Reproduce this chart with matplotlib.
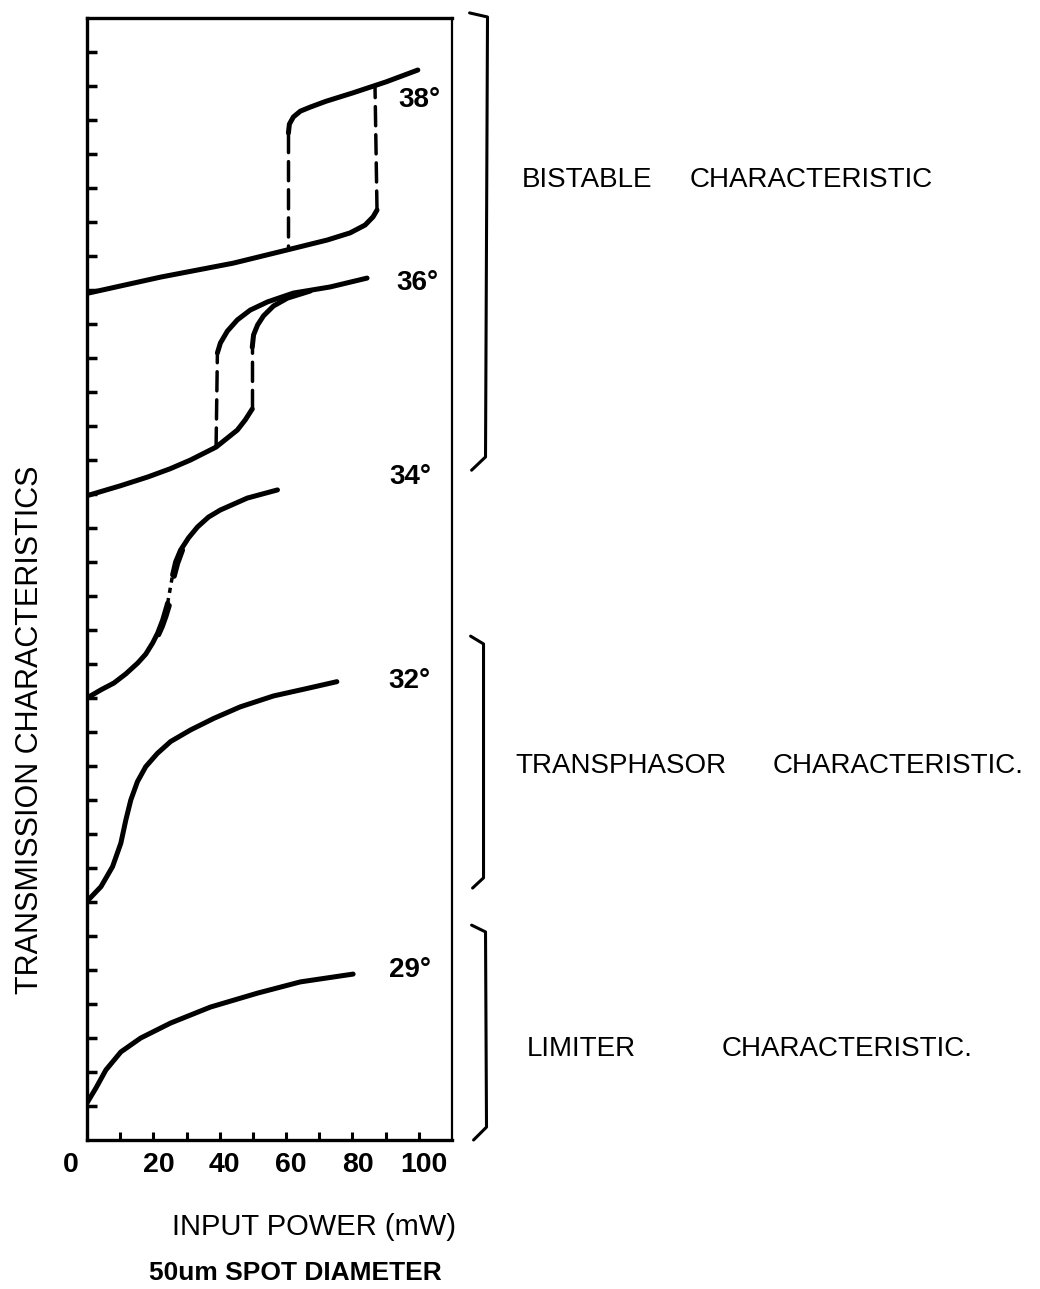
import matplotlib.pyplot as plt
from matplotlib.transforms import ScaledTranslation

# input power (mW) / transmission (arb. units)
p29 = [0, 2.7, 5.7, 10.2, 16.2, 25.2, 37.2, 51.4, 64.3, 80.2]
t29 = [1.09, 1.53, 2.06, 2.59, 3.0, 3.44, 3.91, 4.32, 4.65, 4.88]

p32 = [0, 4.2, 7.7, 10.2, 11.7, 13.2, 15.2, 17.7, 21.2, 25.2, 31.2, 38.2, 46.2, 56.2, 66.3, 75.3]
t32 = [7.02, 7.45, 8.04, 8.73, 9.41, 10.0, 10.54, 10.98, 11.37, 11.72, 12.06, 12.4, 12.74,
       13.06, 13.28, 13.48]

p34_lo = [0, 4.2, 8.1, 11.7, 15.3, 17.7, 19.8, 21.3, 22.8, 23.7, 24.3]
t34_lo = [13.0, 13.24, 13.44, 13.71, 14.03, 14.29, 14.62, 14.91, 15.29, 15.59, 15.79]
p34_gap = [24.3, 25.8]
t34_gap = [15.79, 16.62]
p34_hi = [25.8, 26.7, 28.2, 30.6, 33.3, 36.6, 40.2, 48.3, 57.4]
t34_hi = [16.62, 17.0, 17.35, 17.71, 18.03, 18.32, 18.53, 18.88, 19.12]
p34_back_lo = [21.6, 22.7, 23.8, 24.8]
t34_back_lo = [14.86, 15.1, 15.4, 15.72]
p34_back_hi = [26.3, 27.3, 28.8]
t34_back_hi = [16.58, 16.95, 17.35]

p36_lo = [0, 10.0, 18.3, 25.0, 31.2, 38.9, 45.3, 47.7, 49.2, 49.8]
t36_lo = [18.95, 19.24, 19.5, 19.74, 20.0, 20.38, 20.88, 21.18, 21.41, 21.5]
p36_up = [39.3, 40.2, 42.3, 45.3, 49.2, 54.4, 62.2, 73.3, 84.4]
t36_up = [23.15, 23.44, 23.79, 24.12, 24.41, 24.65, 24.91, 25.09, 25.35]
p36_ret = [49.8, 50.2, 51.4, 53.2, 56.2, 60.4, 67.3]
t36_ret = [23.32, 23.68, 23.97, 24.24, 24.53, 24.76, 24.97]
p36_jump_up = [49.8, 49.8]
t36_jump_up = [21.5, 23.32]
p36_jump_dn = [38.9, 39.3]
t36_jump_dn = [20.38, 23.15]

p38_lo = [0, 22.2, 44.1, 60.4, 72.4, 79.3, 83.8, 86.2, 87.4]
t38_lo = [24.9, 25.38, 25.79, 26.18, 26.47, 26.68, 26.91, 27.15, 27.35]
p38_up = [60.7, 61.0, 62.2, 64.3, 67.3, 72.0, 80.2, 90.1, 99.7]
t38_up = [29.62, 29.88, 30.09, 30.26, 30.38, 30.55, 30.8, 31.12, 31.47]
p38_jump_up = [87.4, 86.8]
t38_jump_up = [27.35, 30.97]
p38_jump_dn = [60.7, 60.7]
t38_jump_dn = [29.62, 26.25]

angle_labels = ['29°', '32°', '34°', '36°', '38°']
angle_x = [97.3, 97.3, 97.3, 99.7, 100.3]
angle_y = [5.0, 13.5, 19.5, 25.2, 30.6]

# brackets grouping the curves (data coords, drawn outside the axes)
brackets = {
    'bistable': ([115.3, 120.7, 120.1, 115.9], [33.15, 33.03, 20.09, 19.7]),
    'transphasor': ([115.6, 119.5, 119.5, 116.2], [14.82, 14.59, 7.71, 7.41]),
    'limiter': ([115.9, 120.1, 120.4, 116.5], [6.32, 6.12, 0.38, 0.0]),
}
group_words = [('BISTABLE', 'CHARACTERISTIC'), ('TRANSPHASOR', 'CHARACTERISTIC.'),
               ('LIMITER', 'CHARACTERISTIC.')]
group_px = [(522, 690, 180), (515, 773, 766), (527, 722, 1049)]

W, H = 1040, 1289
fig = plt.figure(figsize=(W / 100, H / 100), dpi=100)
ax = fig.add_axes([87 / W, 1 - 1140 / H, 365 / W, 1122 / H])

solid = dict(color='black', lw=3.6, solid_capstyle='round', solid_joinstyle='round')
dashed = dict(color='black', lw=2.5, dashes=(5.5, 2.6), dash_capstyle='round')

ax.plot(p29, t29, **solid)
ax.plot(p32, t32, **solid)
ax.plot(p34_lo, t34_lo, **solid)
ax.plot(p34_hi, t34_hi, **solid)
ax.plot(p34_back_lo, t34_back_lo, **solid)
ax.plot(p34_back_hi, t34_back_hi, **solid)
ax.plot(p34_gap, t34_gap, color='black', lw=2.5, dashes=(1.5, 1.5))
ax.plot(p36_lo, t36_lo, **solid)
ax.plot(p36_up, t36_up, **solid)
ax.plot(p36_ret, t36_ret, **solid)
ax.plot(p36_jump_up, t36_jump_up, **dashed)
ax.plot(p36_jump_dn, t36_jump_dn, **dashed)
ax.plot(p38_lo, t38_lo, **solid)
ax.plot(p38_up, t38_up, **solid)
ax.plot(p38_jump_up, t38_jump_up, **dashed)
ax.plot(p38_jump_dn, t38_jump_dn, **dashed)

for lab, x, y in zip(angle_labels, angle_x, angle_y):
    ax.text(x, y, lab, fontsize=20, fontweight='bold', family='Liberation Sans',
            ha='center', va='center')

for xs, ys in brackets.values():
    ax.plot(xs, ys, color='black', lw=2.2, clip_on=False,
            solid_capstyle='round', solid_joinstyle='round')

for (w1, w2), (x1, x2, py) in zip(group_words, group_px):
    fig.text(x1 / W, 1 - py / H, w1, fontsize=20, family='Liberation Sans',
             ha='left', va='center')
    fig.text(x2 / W, 1 - py / H, w2, fontsize=20, family='Liberation Sans',
             ha='left', va='center')

ax.set_xlim(0, 110)
ax.set_ylim(0, 33)
ax.set_xticks(range(0, 101, 10))
ax.set_xticklabels([str(v) if v % 20 == 0 else '' for v in range(0, 101, 10)],
                   fontsize=20.5, fontweight='bold', family='Liberation Sans')
ax.set_yticks(range(1, 33))
ax.tick_params(axis='x', direction='in', length=6, width=2.2, pad=9)
ax.tick_params(axis='y', direction='in', length=7, width=2.5, labelleft=False)
for i, tick in enumerate(ax.xaxis.get_major_ticks()):
    shift = -0.16 if i == 0 else 0.05
    lbl = tick.label1
    lbl.set_transform(lbl.get_transform() + ScaledTranslation(shift, 0, fig.dpi_scale_trans))

for side in ['left', 'bottom', 'top']:
    ax.spines[side].set_linewidth(2.4)
ax.spines['right'].set_linewidth(1.6)

fig.text(30 / W, 1 - 730 / H, 'TRANSMISSION CHARACTERISTICS', rotation=90,
         fontsize=22, family='Liberation Sans', ha='center', va='center')
fig.text(314 / W, 1 - 1227 / H, 'INPUT POWER (mW)', fontsize=21,
         family='Liberation Sans', ha='center', va='center')
fig.text(295 / W, 1 - 1273 / H, '50um SPOT DIAMETER', fontsize=19,
         fontweight='bold', family='Liberation Sans', ha='center', va='center')

fig.savefig('out.png', dpi=100)
